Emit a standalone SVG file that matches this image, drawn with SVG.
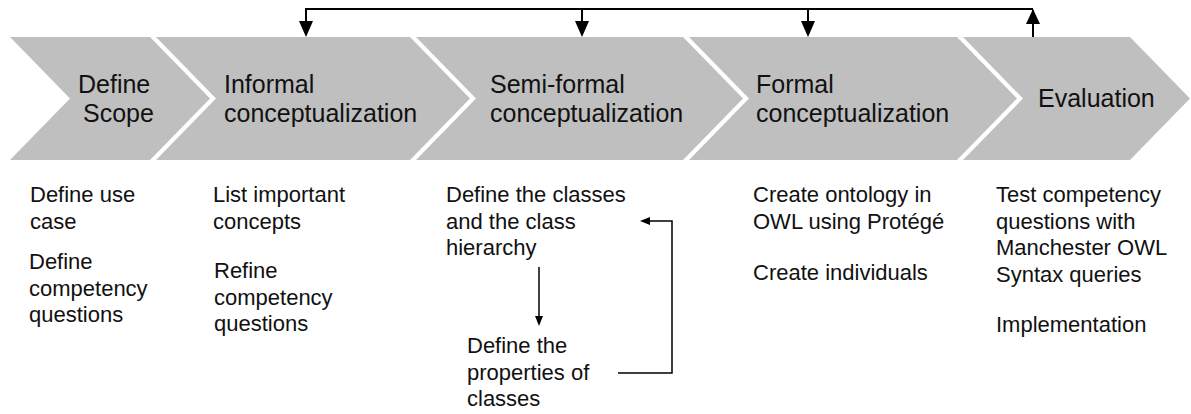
<svg xmlns="http://www.w3.org/2000/svg" width="1191" height="414" viewBox="0 0 1191 414">
<style>
.chev{fill:#bfbfbf;stroke:none}
.h{font-family:"Liberation Sans",Arial,sans-serif;font-size:25px;fill:#111}
.b{font-family:"Liberation Sans",Arial,sans-serif;font-size:22px;fill:#111}
.ln{fill:none;stroke:#000;stroke-width:2}
.ln1{fill:none;stroke:#000;stroke-width:1.5}
</style>
<rect width="1191" height="414" fill="#fff"/>

<g id="define-scope">
<polygon class="chev" points="10,37 150,37 210,98.5 150,160 10,160 70,98.5"/>
<text class="h" x="78" y="93">Define</text>
<text class="h" x="83" y="122">Scope</text>
<text class="b" x="30" y="202">Define use</text>
<text class="b" x="30" y="228.5">case</text>
<text class="b" x="29" y="269">Define</text>
<text class="b" x="29" y="295.5">competency</text>
<text class="b" x="29" y="322">questions</text>
</g>

<g id="informal">
<polygon class="chev" points="156,37 410,37 470,98.5 410,160 156,160 216,98.5"/>
<text class="h" x="224" y="93">Informal</text>
<text class="h" x="224" y="122">conceptualization</text>
<text class="b" x="213" y="202">List important</text>
<text class="b" x="213" y="228.5">concepts</text>
<text class="b" x="214" y="278">Refine</text>
<text class="b" x="214" y="304.5">competency</text>
<text class="b" x="214" y="331">questions</text>
</g>

<g id="semi-formal">
<polygon class="chev" points="416,37 683,37 743,98.5 683,160 416,160 476,98.5"/>
<text class="h" x="490" y="93">Semi-formal</text>
<text class="h" x="490" y="122">conceptualization</text>
<text class="b" x="446" y="202">Define the classes</text>
<text class="b" x="446" y="228.5">and the class</text>
<text class="b" x="446" y="255">hierarchy</text>
<text class="b" x="467" y="353">Define the</text>
<text class="b" x="467" y="379.5">properties of</text>
<text class="b" x="467" y="406">classes</text>
</g>

<g id="formal">
<polygon class="chev" points="689,37 957,37 1017,98.5 957,160 689,160 749,98.5"/>
<text class="h" x="756" y="93">Formal</text>
<text class="h" x="756" y="122">conceptualization</text>
<text class="b" x="753" y="202">Create ontology in</text>
<text class="b" x="753" y="228.5">OWL using Protégé</text>
<text class="b" x="753" y="280">Create individuals</text>
</g>

<g id="evaluation">
<polygon class="chev" points="963,37 1130,37 1190,98.5 1130,160 963,160 1023,98.5"/>
<text class="h" x="1038" y="107">Evaluation</text>
<text class="b" x="996" y="202">Test competency</text>
<text class="b" x="996" y="228.5">questions with</text>
<text class="b" x="996" y="255">Manchester OWL</text>
<text class="b" x="996" y="281.5">Syntax queries</text>
<text class="b" x="996" y="332">Implementation</text>
</g>

<g id="connectors">
<path class="ln" d="M1033,37 V10"/>
<polygon points="1033,9 1026,24 1040,24" fill="#000"/>
<path class="ln" d="M1033,9 H306 V22"/>
<polygon points="306,37 299,21 313,21" fill="#000"/>
<path class="ln" d="M582,9 V22"/>
<polygon points="582,37 575,21 589,21" fill="#000"/>
<path class="ln" d="M808,9 V22"/>
<polygon points="808,37 801,21 815,21" fill="#000"/>
<path class="ln1" d="M539,267 V318"/>
<polygon points="539,326 535,316 543,316" fill="#000"/>
<path class="ln1" d="M618,373 H672 V221 H648"/>
<polygon points="640,221 650,217 650,225" fill="#000"/>
</g>
</svg>
